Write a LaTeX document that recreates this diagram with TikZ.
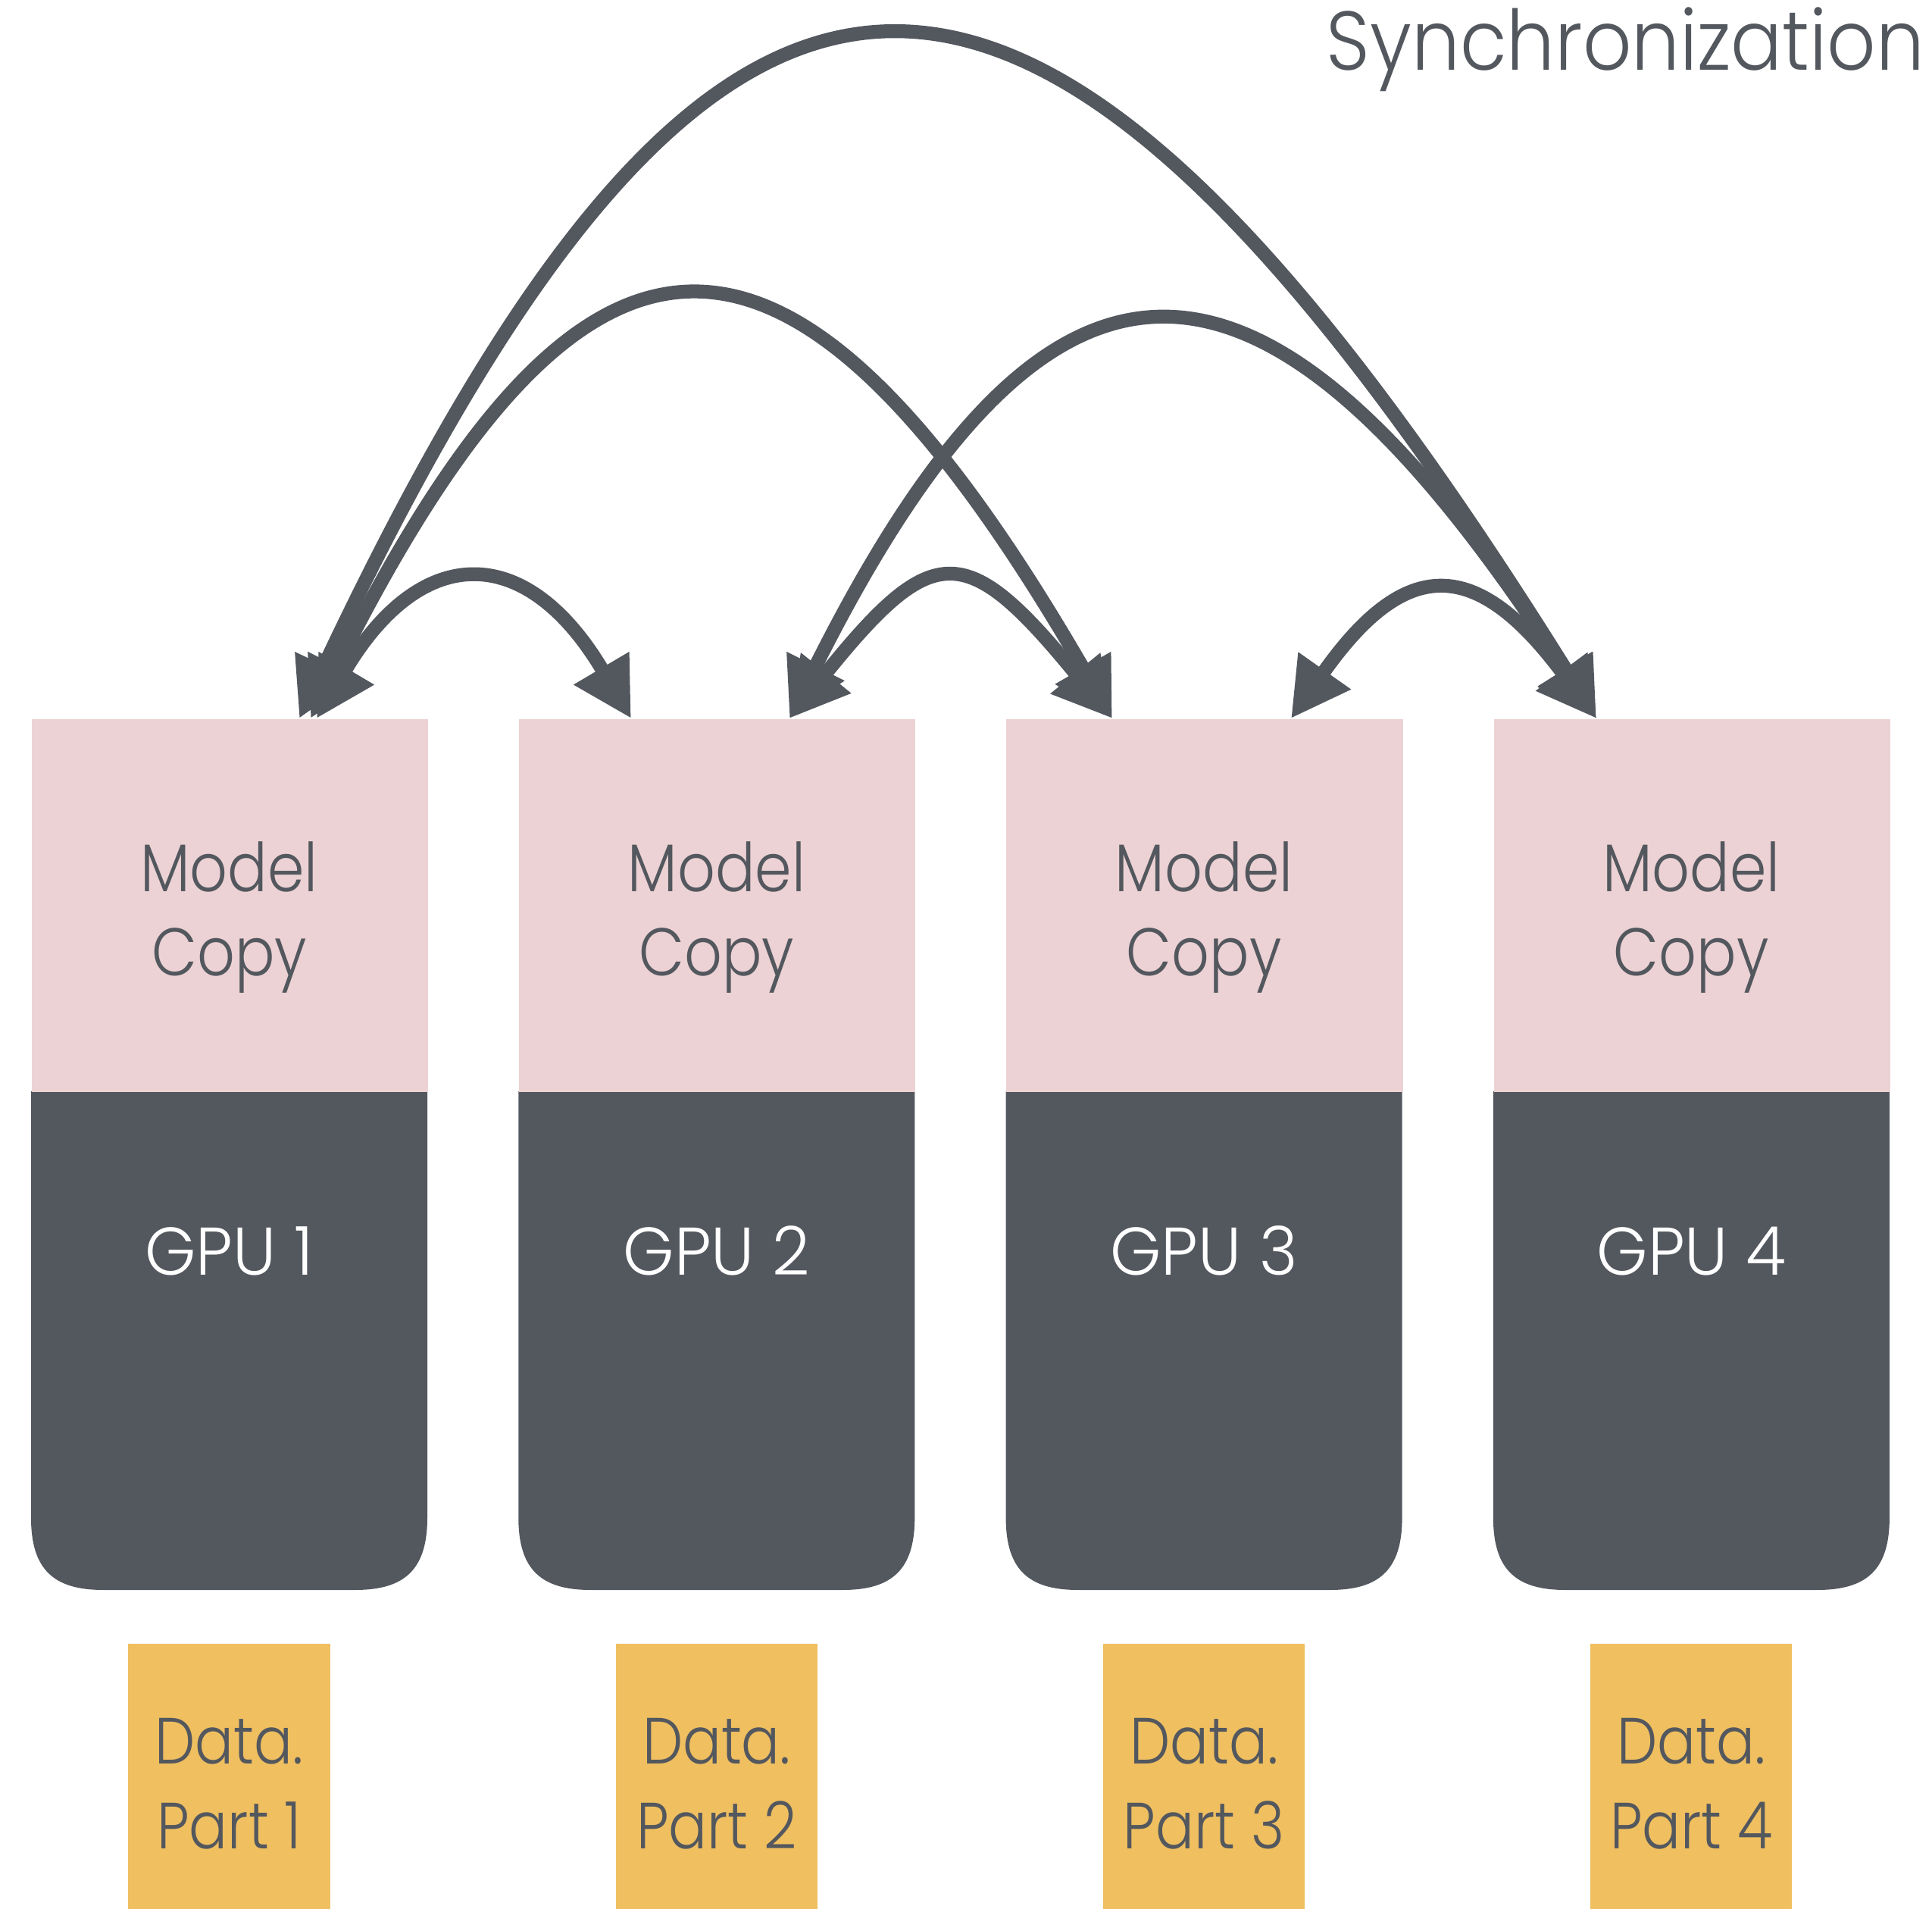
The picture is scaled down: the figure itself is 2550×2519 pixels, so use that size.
\documentclass[tikz,border=0pt]{standalone}
\usepackage{fontspec}
\setmainfont{Poppins}[UprightFont=* Light, FakeStretch=0.875]
\newfontfamily\gpufont{Poppins}[UprightFont=* Light, FakeStretch=0.97]
\newfontfamily\titlefont{Poppins}[UprightFont=* Light, FakeStretch=0.915]
\usetikzlibrary{arrows.meta}
\definecolor{slate}{HTML}{53575E}
\definecolor{blush}{HTML}{ECD2D4}
\definecolor{mustard}{HTML}{EFBF60}

\begin{document}
\begin{tikzpicture}[x=0.01cm, y=-0.01cm,
  pinkbox/.style={fill=blush, draw=none, minimum width=5.23cm, minimum height=4.92cm, inner sep=0pt, anchor=north west},
  databox/.style={fill=mustard, draw=none, minimum width=2.66cm, minimum height=3.6cm, inner sep=0pt, anchor=north},
  lbl/.style={text=slate, font=\fontsize{25.3}{30}\selectfont, anchor=base, inner sep=0pt},
  gpulbl/.style={lbl, text=white, font=\gpufont\fontsize{25.3}{30}\selectfont},
  dlbl/.style={lbl, font=\fontsize{24.5}{29}\selectfont},
  sync/.style={draw=slate, line width=5.2pt, {Triangle[length=7.7mm, width=8mm]}-{Triangle[length=7.7mm, width=8mm]}}
]
\useasboundingbox (0,0) rectangle (2550,2519);

% four workers: model copy on top of a GPU, data shard below
\foreach \i in {1,2,3,4}{
  \pgfmathsetmacro{\bx}{41+643.3*(\i-1)}
  \pgfmathsetmacro{\cx}{\bx+261.5}
  % GPU body, rounded only at the bottom
  \fill[slate] (\bx,1440) -- (\bx+523,1440) -- (\bx+523,2003)
     .. controls (\bx+523,2072) and (\bx+492,2098) .. (\bx+428,2098)
     -- (\bx+95,2098)
     .. controls (\bx+31,2098) and (\bx,2072) .. (\bx,2003) -- cycle;
  \node[pinkbox] (p\i) at (\bx,948) {};
  \node[databox] (d\i) at (\cx,2168) {};
  \node[lbl] (m\i) at (\cx,1177) {Model};
  \node[lbl] (c\i) at (\cx,1288) {Copy};
  \node[gpulbl] (n\i) at (\cx,1683) {GPU \i};
  \node[dlbl] (da\i) at (\cx,2327) {Data.};
  \node[dlbl] (pa\i) at (\cx,2439) {Part \i};
}

\node[lbl, font=\titlefont\fontsize{31.3}{36}\selectfont, anchor=base east] (title) at (2541,93) {Synchronization};

% arrow tips on top of the model copies
\coordinate (t1c) at (395,948);
\coordinate (t1b) at (410,948);
\coordinate (t1a) at (418,948);
\coordinate (s2a) at (833,948);
\coordinate (s2b) at (1042,948);
\coordinate (s3a) at (1468,948);
\coordinate (s3b) at (1704,948);
\coordinate (s4)  at (2107,948);

% synchronization arcs between every pair of copies
\draw[sync] (t1c) .. controls (955,-240) and (1365,-240) .. (s4);
\draw[sync] (t1b) .. controls (775,218) and (1045,218) .. (s3a);
\draw[sync] (s2b) .. controls (1385,262) and (1665,262) .. (s4);
\draw[sync] (t1a) .. controls (556,715) and (695,715) .. (s2a);
\draw[sync] (s2b) .. controls (1232,712) and (1275,712) .. (s3a);
\draw[sync] (s3b) .. controls (1855,734) and (1948,734) .. (s4);
\end{tikzpicture}
\end{document}
